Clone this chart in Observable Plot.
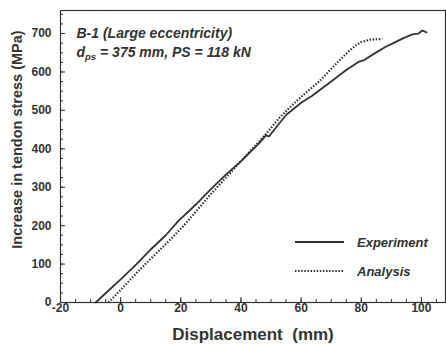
<!DOCTYPE html>
<html>
<head>
<meta charset="utf-8">
<script src="https://cdn.jsdelivr.net/npm/d3@7"></script>
<script src="https://cdn.jsdelivr.net/npm/@observablehq/plot@0.6"></script>
<style>
  html, body { margin: 0; padding: 0; background: #fff; }
  #chart { position: relative; width: 446px; height: 345px; }
  svg { font-family: "Liberation Sans", Arial, sans-serif; }
</style>
</head>
<body>
<div id="chart"></div>
<script>
// Experiment (solid)
const expX = [-8.3, -5, 0, 5.3, 10, 15, 19.3, 25, 30, 35, 40.3, 46, 48.3, 49.3, 52.7, 55, 60, 63.7, 66, 70, 75, 79.3, 81, 85, 88, 91.7, 94, 97, 99, 100.3, 101.7];
const expY = [0, 24, 60, 100, 138, 175, 213, 255, 295, 333, 370, 414, 435, 432, 466, 488, 520, 538, 552, 575, 605, 627, 631, 651, 665, 679, 688, 698, 700, 708, 703];
// Analysis (dotted)
const anaX = [-4, 0, 8.2, 15, 21, 30, 40, 48, 52.7, 56, 60, 63.7, 66, 72.7, 76, 78.3, 80, 83, 87];
const anaY = [0, 33, 100, 152, 200, 282, 368, 436, 480, 506, 535, 560, 575, 630, 655, 670, 678, 684, 686];

const xMajor = [-20, 0, 20, 40, 60, 80, 100];
const xMinor = d3.range(-20, 106, 5);
const yMajor = [0, 100, 200, 300, 400, 500, 600, 700];
const yMinor = d3.range(0, 751, 25);

const seriesNames = ["Experiment", "Analysis"];
const titleLines = ["B-1 (Large eccentricity)", "dps = 375 mm, PS = 118 kN"];
const xLabel = "Displacement  (mm)";
const yLabel = "Increase in tendon stress (MPa)";

const expData = expX.map((x, i) => ({x, y: expY[i]}));
const anaData = anaX.map((x, i) => ({x, y: anaY[i]}));

const ink = "#333";
const dots = "1.5,1.6";

const plot = Plot.plot({
  width: 446,
  height: 345,
  marginLeft: 60,
  marginRight: 1,
  marginTop: 10,
  marginBottom: 43,
  style: {background: "#fff", color: ink, overflow: "visible"},
  x: {domain: [-20, 108]},
  y: {domain: [0, 760]},
  marks: [
    Plot.frame({stroke: ink, strokeWidth: 1.2}),
    Plot.axisX(xMinor, {tickSize: -3, text: null, stroke: ink, label: null}),
    Plot.axisX(xMajor, {tickSize: -5, tickPadding: 6, stroke: ink, fontSize: 12, fontWeight: "bold", label: null, tickFormat: d => d}),
    Plot.axisY(yMinor, {tickSize: -3, text: null, stroke: ink, label: null}),
    Plot.axisY(yMajor, {tickSize: -5, tickPadding: 14, stroke: ink, fontSize: 12, fontWeight: "bold", label: null, tickFormat: d => d}),
    Plot.text([xLabel], {frameAnchor: "bottom", dy: 37, fontSize: 17, fontWeight: "bold", fill: ink}),
    Plot.text([yLabel], {frameAnchor: "left", textAnchor: "middle", dx: -43, dy: -17, rotate: -90, fontSize: 14.5, fontWeight: "bold", fill: ink}),
    Plot.text([titleLines[0]], {frameAnchor: "top-left", dx: 16, dy: 18, fontSize: 14, fontWeight: "bold", fontStyle: "italic", fill: ink, textAnchor: "start", className: "t1"}),
    Plot.text([titleLines[1]], {frameAnchor: "top-left", dx: 16, dy: 37, fontSize: 14, fontWeight: "bold", fontStyle: "italic", fill: ink, textAnchor: "start", className: "t2"}),
    Plot.line(anaData, {x: "x", y: "y", stroke: ink, strokeWidth: 2.2, strokeDasharray: dots, strokeLinecap: "butt"}),
    Plot.line(expData, {x: "x", y: "y", stroke: ink, strokeWidth: 1.8})
  ]
});

document.getElementById("chart").appendChild(plot);

// subscript in annotation
const t2 = plot.querySelector(".t2 text");
if (t2) {
  t2.textContent = "";
  const ns = "http://www.w3.org/2000/svg";
  const a = document.createElementNS(ns, "tspan"); a.textContent = "d";
  const b = document.createElementNS(ns, "tspan"); b.textContent = "ps"; b.setAttribute("font-size", "9.5"); b.setAttribute("dy", "3");
  const c = document.createElementNS(ns, "tspan"); c.textContent = " = 375 mm, PS = 118 kN"; c.setAttribute("dy", "-3");
  t2.append(a, b, c);
}

// legend
const svg = d3.select(plot);
const lg = svg.append("g").attr("fill", ink).attr("stroke", ink);
const legendRows = [
  {name: seriesNames[0], dash: null, w: 1.8, y: 242},
  {name: seriesNames[1], dash: dots, w: 2.2, y: 271}
];
legendRows.forEach(r => {
  lg.append("line").attr("x1", 295).attr("x2", 344).attr("y1", r.y).attr("y2", r.y)
    .attr("stroke-width", r.w).attr("stroke-dasharray", r.dash);
  lg.append("text").attr("x", 357).attr("y", r.y).attr("dy", "0.35em").attr("stroke", "none")
    .attr("text-anchor", "start")
    .attr("font-size", 13).attr("font-weight", "bold").attr("font-style", "italic").text(r.name);
});
</script>
</body>
</html>
